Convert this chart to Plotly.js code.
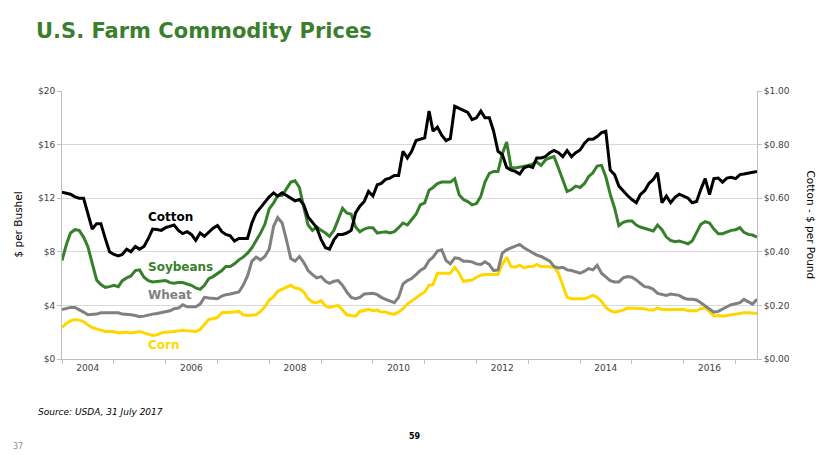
<!DOCTYPE html>
<html>
<head>
<meta charset="utf-8">
<script src="https://cdn.plot.ly/plotly-3.0.1.min.js"></script>
<style>
  html, body { margin: 0; padding: 0; background: #ffffff; }
  #chart { width: 830px; height: 467px; }
</style>
</head>
<body>
<div id="chart"></div>
<script>
// Monthly observations, Jan 2004 – Jun 2017
const startYear = 2004;
const monthCount = 162;
const months = [];
for (let i = 0; i < monthCount; i++) {
  const y = startYear + Math.floor(i / 12);
  const m = (i % 12) + 1;
  months.push(y + '-' + String(m).padStart(2, '0') + '-01');
}

// Cotton, $ per pound (right axis)
const cotton = [
  0.622,0.618,0.615,0.605,0.600,0.600,0.545,0.485,0.505,0.505,0.450,0.400,
  0.390,0.385,0.390,0.410,0.400,0.420,0.410,0.420,0.450,0.485,0.483,0.480,
  0.490,0.495,0.500,0.480,0.468,0.475,0.465,0.443,0.470,0.458,0.475,0.488,
  0.498,0.475,0.465,0.460,0.440,0.450,0.450,0.450,0.508,0.545,0.565,0.585,
  0.605,0.620,0.608,0.620,0.610,0.600,0.590,0.595,0.575,0.530,0.510,0.490,
  0.445,0.415,0.410,0.445,0.465,0.465,0.470,0.480,0.545,0.570,0.588,0.625,
  0.608,0.650,0.655,0.670,0.675,0.685,0.685,0.775,0.750,0.775,0.815,0.820,
  0.825,0.925,0.850,0.865,0.835,0.815,0.823,0.943,0.935,0.925,0.920,0.893,
  0.900,0.925,0.900,0.900,0.850,0.775,0.763,0.715,0.705,0.700,0.690,0.713,
  0.720,0.715,0.750,0.750,0.755,0.770,0.778,0.770,0.755,0.778,0.755,0.770,
  0.780,0.805,0.820,0.820,0.830,0.845,0.850,0.705,0.688,0.645,0.625,0.610,
  0.595,0.583,0.613,0.628,0.655,0.670,0.695,0.583,0.608,0.583,0.603,0.615,
  0.608,0.600,0.583,0.588,0.633,0.673,0.613,0.673,0.675,0.660,0.675,0.678,
  0.673,0.688,0.690,0.693,0.695,0.700
];

// Soybeans, $ per bushel
const soybeans = [
  7.35,8.55,9.4,9.65,9.6,9.1,8.4,7.05,5.9,5.55,5.35,5.4,
  5.5,5.4,5.85,6.05,6.2,6.6,6.65,6.1,5.85,5.75,5.8,5.85,
  5.85,5.7,5.65,5.7,5.7,5.6,5.5,5.3,5.2,5.5,6.0,6.15,
  6.4,6.6,6.9,6.9,7.1,7.4,7.6,7.9,8.3,8.8,9.4,10.05,
  11.2,11.65,12.2,12.2,12.7,13.2,13.3,12.8,11.3,10.0,9.6,9.85,
  9.6,9.4,9.15,9.6,10.4,11.25,10.9,10.8,9.85,9.5,9.7,9.8,
  9.8,9.4,9.45,9.5,9.4,9.5,9.8,10.15,10.0,10.4,10.8,11.5,
  11.65,12.6,12.8,13.1,13.2,13.2,13.2,13.45,12.25,11.9,11.75,11.5,
  11.6,12.15,13.2,13.85,14.0,14.0,15.3,16.2,14.3,14.25,14.3,14.4,
  14.45,14.55,14.7,14.45,14.85,15.0,15.1,14.25,13.4,12.5,12.65,12.9,
  12.8,13.1,13.6,13.9,14.4,14.45,13.6,12.3,11.25,9.95,10.2,10.3,
  10.3,10.0,9.85,9.75,9.6,9.55,10.0,9.65,9.1,8.85,8.75,8.8,
  8.7,8.6,8.8,9.5,10.05,10.25,10.15,9.7,9.35,9.35,9.5,9.6,
  9.65,9.8,9.45,9.3,9.25,9.1
];

// Wheat, $ per bushel
const wheat = [
  3.7,3.8,3.85,3.85,3.7,3.5,3.3,3.3,3.35,3.45,3.45,3.4,
  3.45,3.45,3.35,3.35,3.3,3.25,3.15,3.2,3.3,3.35,3.4,3.45,
  3.5,3.6,3.75,3.8,4.05,3.9,3.9,3.9,4.1,4.6,4.55,4.55,
  4.5,4.7,4.8,4.85,4.9,5.0,5.5,6.2,7.3,7.6,7.4,7.65,
  8.2,9.9,10.55,10.15,8.9,7.5,7.3,7.65,7.2,6.6,6.3,6.05,
  6.15,5.8,5.65,5.8,5.85,5.5,5.0,4.6,4.5,4.6,4.85,4.9,
  4.9,4.8,4.6,4.45,4.35,4.2,4.6,5.6,5.85,6.0,6.3,6.6,
  6.8,7.35,7.6,8.05,8.15,7.35,7.1,7.55,7.5,7.3,7.3,7.25,
  7.1,7.05,7.25,7.05,6.6,6.65,7.9,8.15,8.3,8.45,8.55,8.3,
  8.1,7.9,7.75,7.65,7.5,7.3,6.9,6.8,6.85,6.65,6.6,6.5,
  6.4,6.55,6.75,6.65,7.0,6.4,6.1,5.85,5.75,5.75,6.05,6.15,
  6.1,5.9,5.65,5.4,5.35,5.2,4.9,4.8,4.75,4.85,4.8,4.75,
  4.55,4.45,4.45,4.4,4.2,3.95,3.7,3.5,3.55,3.75,3.9,4.05,
  4.1,4.2,4.45,4.25,4.1,4.45
];

// Corn, $ per bushel
const corn = [
  2.35,2.65,2.85,2.95,2.9,2.8,2.55,2.35,2.25,2.15,2.05,2.05,
  2.05,1.95,2.0,2.0,1.95,2.0,2.05,1.95,1.85,1.75,1.8,1.95,
  2.0,2.0,2.05,2.1,2.15,2.1,2.1,2.05,2.2,2.55,2.95,3.0,
  3.1,3.45,3.45,3.5,3.5,3.55,3.3,3.25,3.25,3.3,3.55,3.9,
  4.4,4.65,5.05,5.2,5.35,5.5,5.3,5.25,5.0,4.5,4.25,4.2,
  4.35,3.95,3.85,3.9,4.0,3.65,3.3,3.25,3.2,3.55,3.65,3.7,
  3.6,3.65,3.5,3.5,3.4,3.35,3.5,3.75,4.1,4.35,4.6,4.8,
  5.0,5.5,5.55,6.4,6.4,6.4,6.4,6.85,6.4,5.8,5.85,5.9,
  6.1,6.25,6.3,6.3,6.3,6.3,7.05,7.6,6.9,6.85,7.0,6.8,
  6.9,6.9,7.05,6.9,6.9,6.9,6.85,6.4,5.4,4.6,4.5,4.5,
  4.45,4.5,4.6,4.75,4.6,4.3,3.85,3.6,3.5,3.55,3.65,3.8,
  3.8,3.8,3.75,3.75,3.65,3.65,3.8,3.7,3.7,3.7,3.65,3.7,
  3.7,3.6,3.6,3.6,3.75,3.8,3.55,3.2,3.25,3.2,3.25,3.3,
  3.4,3.45,3.45,3.45,3.45,3.4
];

// Axis labels
const yearTickVals = ['2004-07-01','2006-07-01','2008-07-01','2010-07-01','2012-07-01','2014-07-01','2016-07-01'];
const yearTickText = ['2004','2006','2008','2010','2012','2014','2016'];
const leftTickVals = [0, 4, 8, 12, 16, 20];
const leftTickText = ['$0', '$4', '$8', '$12', '$16', '$20'];
const rightTickVals = [0, 0.2, 0.4, 0.6, 0.8, 1.0];
const rightTickText = ['$0.00', '$0.20', '$0.40', '$0.60', '$0.80', '$1.00'];

const colors = { Cotton: '#000000', Soybeans: '#37802b', Wheat: '#808080', Corn: '#ffd700' };

const FONT = 'DejaVu Sans, Verdana, sans-serif';

const traces = [
  { x: months, y: corn, name: 'Corn', type: 'scatter', mode: 'lines',
    line: { color: colors.Corn, width: 3 }, yaxis: 'y' },
  { x: months, y: wheat, name: 'Wheat', type: 'scatter', mode: 'lines',
    line: { color: colors.Wheat, width: 3 }, yaxis: 'y' },
  { x: months, y: soybeans, name: 'Soybeans', type: 'scatter', mode: 'lines',
    line: { color: colors.Soybeans, width: 3 }, yaxis: 'y' },
  { x: months, y: cotton, name: 'Cotton', type: 'scatter', mode: 'lines',
    line: { color: colors.Cotton, width: 3 }, yaxis: 'y2' }
];

const layout = {
  width: 830, height: 467,
  margin: { l: 62, r: 73, t: 91, b: 108 },
  paper_bgcolor: '#ffffff', plot_bgcolor: '#ffffff',
  showlegend: false,
  hovermode: false,
  font: { family: FONT, size: 9, color: '#404040' },
  title: {
    text: '<b>U.S. Farm Commodity Prices</b>',
    font: { family: FONT, size: 21, color: '#3b7f2e' },
    xref: 'container', x: 0.0434, xanchor: 'left',
    yref: 'container', y: 0.934, yanchor: 'middle'
  },
  xaxis: {
    type: 'date',
    range: ['2004-01-01', '2017-06-01'],
    tickvals: yearTickVals, ticktext: yearTickText,
    ticks: '', showgrid: false,
    showline: true, linecolor: '#bfbfbf', linewidth: 1,
    tickfont: { family: FONT, size: 9, color: '#404040' },
    minor: { dtick: 'M12', tick0: '2004-01-01', ticks: 'outside', ticklen: 4, tickcolor: '#bfbfbf', showgrid: false },
    zeroline: false, fixedrange: true
  },
  yaxis: {
    range: [0, 20], tickvals: leftTickVals, ticktext: leftTickText,
    showgrid: true, gridcolor: '#d9d9d9', gridwidth: 1,
    showline: true, linecolor: '#bfbfbf', linewidth: 1,
    ticks: 'outside', ticklen: 4, tickcolor: '#bfbfbf',
    tickfont: { family: FONT, size: 9, color: '#404040' },
    zeroline: false, fixedrange: true
  },
  yaxis2: {
    range: [0, 1], tickvals: rightTickVals, ticktext: rightTickText,
    overlaying: 'y', side: 'right',
    showgrid: false,
    showline: true, linecolor: '#bfbfbf', linewidth: 1,
    ticks: 'outside', ticklen: 4, tickcolor: '#bfbfbf',
    tickfont: { family: FONT, size: 9, color: '#404040' },
    zeroline: false, fixedrange: true
  },
  annotations: [
    { text: '$ per Bushel', xref: 'paper', yref: 'paper', x: -0.064, y: 0.5,
      xanchor: 'center', yanchor: 'middle', textangle: -90, showarrow: false,
      font: { family: FONT, size: 10.5, color: '#000000' } },
    { text: 'Cotton - $ per Pound', xref: 'paper', yref: 'paper', x: 1.077, y: 0.5,
      xanchor: 'center', yanchor: 'middle', textangle: 90, showarrow: false,
      font: { family: FONT, size: 10.5, color: '#000000' } },
    { text: '<b>Cotton</b>', xref: 'paper', yref: 'paper', x: 0.121, y: 0.53,
      xanchor: 'left', yanchor: 'middle', showarrow: false,
      font: { family: FONT, size: 12, color: colors.Cotton } },
    { text: '<b>Soybeans</b>', xref: 'paper', yref: 'paper', x: 0.121, y: 0.343,
      xanchor: 'left', yanchor: 'middle', showarrow: false,
      font: { family: FONT, size: 12, color: colors.Soybeans } },
    { text: '<b>Wheat</b>', xref: 'paper', yref: 'paper', x: 0.121, y: 0.239,
      xanchor: 'left', yanchor: 'middle', showarrow: false,
      font: { family: FONT, size: 12, color: colors.Wheat } },
    { text: '<b>Corn</b>', xref: 'paper', yref: 'paper', x: 0.121, y: 0.052,
      xanchor: 'left', yanchor: 'middle', showarrow: false,
      font: { family: FONT, size: 12, color: colors.Corn } },
    { text: '<i>Source: USDA, 31 July 2017</i>', xref: 'paper', yref: 'paper',
      x: -0.0374, y: -0.198, xanchor: 'left', yanchor: 'middle', showarrow: false,
      font: { family: FONT, size: 9, color: '#000000' } },
    { text: '<b>59</b>', xref: 'paper', yref: 'paper', x: 0.508, y: -0.291,
      xanchor: 'center', yanchor: 'middle', showarrow: false,
      font: { family: FONT, size: 8, color: '#000000' } },
    { text: '37', xref: 'paper', yref: 'paper', x: -0.063, y: -0.328,
      xanchor: 'center', yanchor: 'middle', showarrow: false,
      font: { family: FONT, size: 8, color: '#8c8c8c' } }
  ]
};

Plotly.newPlot('chart', traces, layout, { displayModeBar: false, staticPlot: true });
</script>
</body>
</html>
